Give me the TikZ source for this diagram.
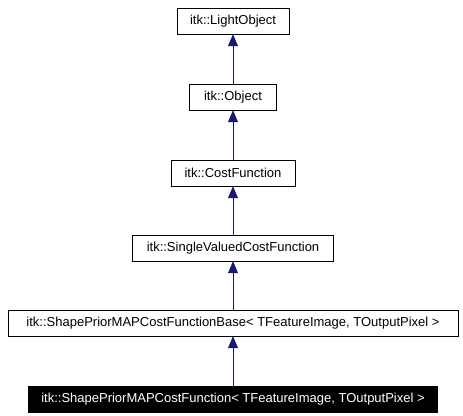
\documentclass[tikz,border=0pt]{standalone}
\usepackage{fontspec}
\setmainfont{Liberation Sans}
\usetikzlibrary{arrows.meta,positioning}
\definecolor{edgeblue}{HTML}{191970}
\tikzset{
  cls/.style={draw, rectangle, fill=white, align=center, font=\fontsize{13}{15}\selectfont, minimum height=26pt, inner sep=2pt},
  cur/.style={cls, fill=black, text=white},
  inh/.style={{Triangle[length=12pt, width=10pt]}-, draw=edgeblue, fill=edgeblue, semithick},
}
\begin{document}
\begin{tikzpicture}[x=1pt,y=-1pt]
\useasboundingbox (0,0) rectangle (463,415);
\node[cls, minimum width=112pt] (lobj) at (233,21) {itk::LightObject};
\node[cls, minimum width=87pt] (obj) at (233,97) {itk::Object};
\node[cls, minimum width=124pt] (cost) at (233,173) {itk::CostFunction};
\node[cls, minimum width=201pt] (svcost) at (233,248) {itk::SingleValuedCostFunction};
\node[cls, minimum width=450pt] (base) at (233,323) {itk::ShapePriorMAPCostFunctionBase< TFeatureImage, TOutputPixel >};
\node[cur, minimum width=409pt] (func) at (233,399) {itk::ShapePriorMAPCostFunction< TFeatureImage, TOutputPixel >};
\draw[inh] (lobj) -- (obj);
\draw[inh] (obj) -- (cost);
\draw[inh] (cost) -- (svcost);
\draw[inh] (svcost) -- (base);
\draw[inh] (base) -- (func);
\end{tikzpicture}
\end{document}
